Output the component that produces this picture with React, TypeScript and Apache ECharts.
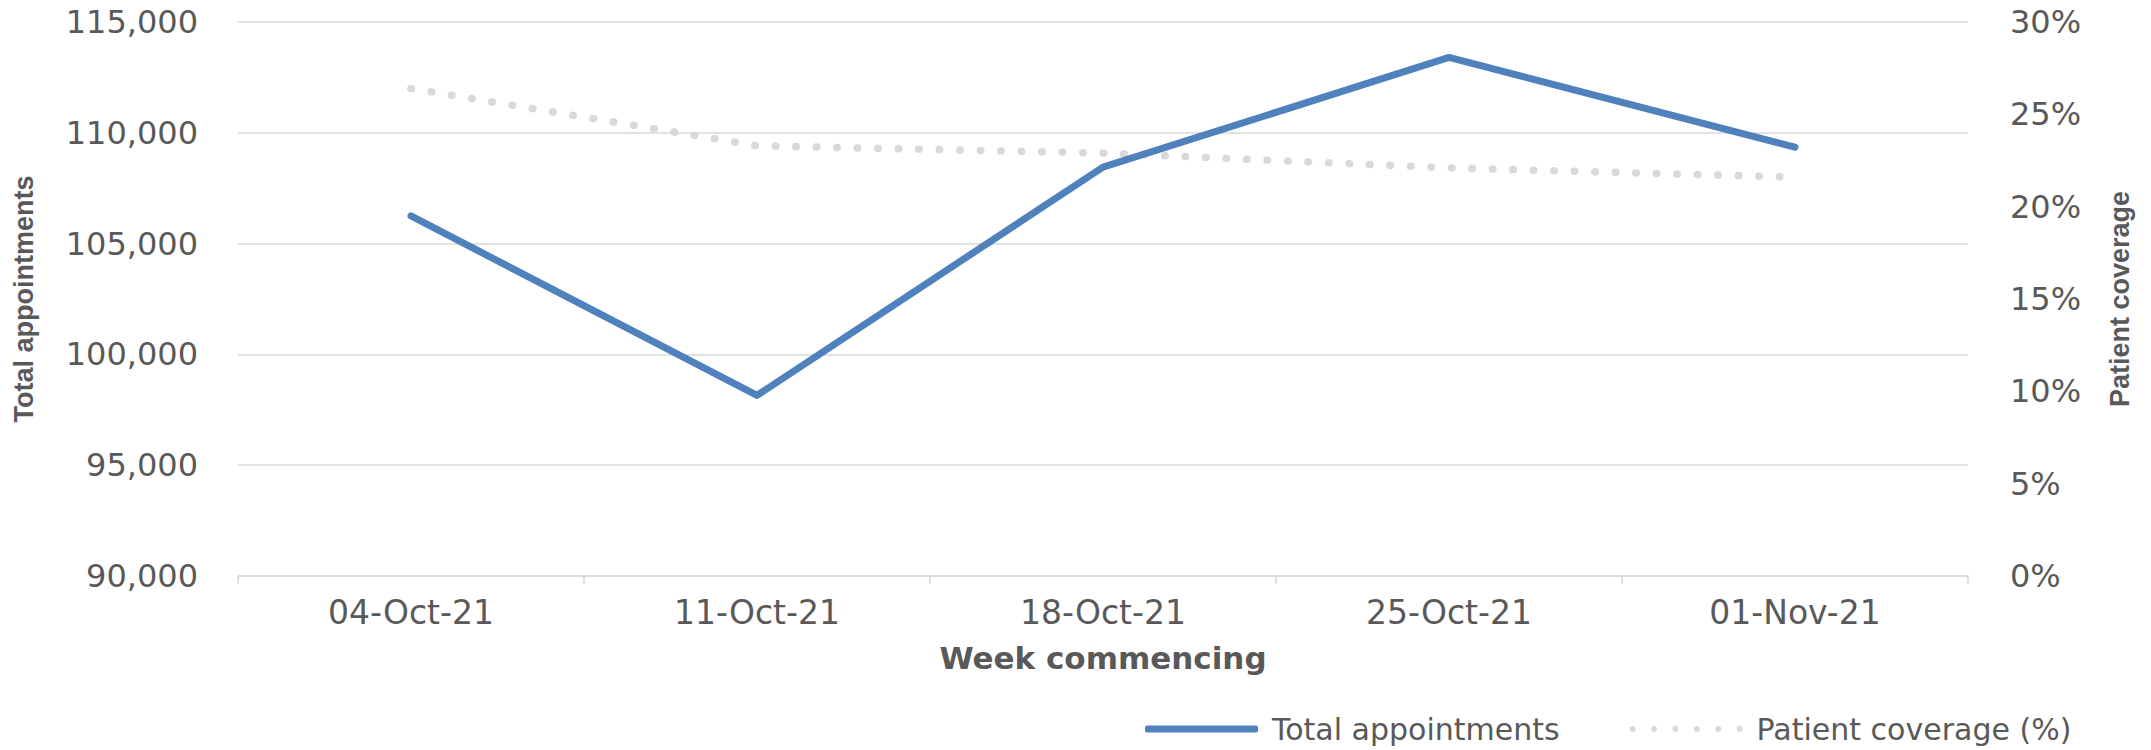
import React, { useEffect, useRef } from "react";
import * as echarts from "echarts";

const categories = ["04-Oct-21", "11-Oct-21", "18-Oct-21", "25-Oct-21", "01-Nov-21"];
const totalAppointments = [106250, 98150, 108450, 113400, 109350];
const patientCoverage = [26.4, 23.3, 22.9, 22.1, 21.6];

const leftMin = 90000;
const leftMax = 115000;
const leftInterval = 5000;
const rightMin = 0;
const rightMax = 30;
const rightInterval = 5;

const TEXT = "#595959";
const GRID = "#d9d9d9";
const BLUE = "#4f81bd";

function dotsIcon(): string {
  let d = "";
  const r = 3;
  for (let i = 0; i < 6; i++) {
    const cx = r + i * 21.6;
    d += `M${cx - r},${r} A${r},${r} 0 1,0 ${cx + r},${r} A${r},${r} 0 1,0 ${cx - r},${r} Z `;
  }
  return "path://" + d.trim();
}

export default function App() {
  const ref = useRef<HTMLDivElement>(null);
  useEffect(() => {
    document.body.style.margin = "0";
    if (!ref.current) return;
    const chart = echarts.init(ref.current, undefined, { renderer: "svg" });
    const titleFont = "'Liberation Sans', Arial, sans-serif";
    chart.setOption({
      animation: false,
      backgroundColor: "#ffffff",
      grid: { left: 238, right: 183, top: 22, bottom: 174, containLabel: false },
      legend: {
        left: 1145,
        top: 714,
        padding: 0,
        itemWidth: 113,
        itemHeight: 7,
        itemGap: 70,
        textStyle: { color: TEXT, fontSize: 30, fontFamily: "DejaVu Sans", padding: [0, 0, 0, 9] },
        data: [
          {
            name: "Total appointments",
            icon: "roundRect",
            itemStyle: { color: BLUE, borderWidth: 0 },
          },
          {
            name: "Patient coverage (%)",
            icon: dotsIcon(),
            itemStyle: { color: GRID, borderWidth: 0 },
          },
        ],
      },
      xAxis: {
        type: "category",
        data: categories,
        boundaryGap: true,
        axisLine: { show: true, lineStyle: { color: GRID, width: 1.5 } },
        axisTick: { show: true, length: 8, lineStyle: { color: GRID, width: 1.5 } },
        axisLabel: { color: TEXT, fontSize: 33, fontFamily: "DejaVu Sans", margin: 20 },
        name: "Week commencing",
        nameLocation: "middle",
        nameGap: 66,
        nameTextStyle: { color: TEXT, fontSize: 31, fontWeight: "bold", fontFamily: "DejaVu Sans" },
      },
      yAxis: [
        {
          type: "value",
          min: leftMin,
          max: leftMax,
          interval: leftInterval,
          axisLine: { show: false },
          axisTick: { show: false },
          splitLine: { lineStyle: { color: GRID, width: 1.5 } },
          axisLabel: {
            color: TEXT,
            fontSize: 32,
            fontFamily: "DejaVu Sans",
            margin: 40,
            formatter: (v: number) => v.toLocaleString("en-US"),
          },
          name: "Total appointments",
          nameLocation: "middle",
          nameRotate: 90,
          nameGap: 201,
          nameTextStyle: { color: TEXT, fontSize: 27, fontWeight: "bold", fontFamily: titleFont },
        },
        {
          type: "value",
          min: rightMin,
          max: rightMax,
          interval: rightInterval,
          position: "right",
          axisLine: { show: false },
          axisTick: { show: false },
          splitLine: { show: false },
          axisLabel: {
            color: TEXT,
            fontSize: 32,
            fontFamily: "DejaVu Sans",
            margin: 42,
            formatter: "{value}%",
          },
          name: "Patient coverage",
          nameLocation: "middle",
          nameRotate: 90,
          nameGap: 138,
          nameTextStyle: { color: TEXT, fontSize: 27, fontWeight: "bold", fontFamily: titleFont },
        },
      ],
      series: [
        {
          name: "Total appointments",
          type: "line",
          yAxisIndex: 0,
          data: totalAppointments,
          symbol: "none",
          itemStyle: { color: BLUE },
          lineStyle: { color: BLUE, width: 7, cap: "round", join: "round" },
          z: 3,
        },
        {
          name: "Patient coverage (%)",
          type: "line",
          yAxisIndex: 1,
          data: patientCoverage,
          symbol: "none",
          itemStyle: { color: GRID },
          lineStyle: { color: GRID, width: 7.5, type: [0.5, 20], cap: "round", join: "round" },
          z: 2,
        },
      ],
    });
    return () => chart.dispose();
  }, []);
  return <div ref={ref} style={{ width: 2151, height: 750 }} />;
}
